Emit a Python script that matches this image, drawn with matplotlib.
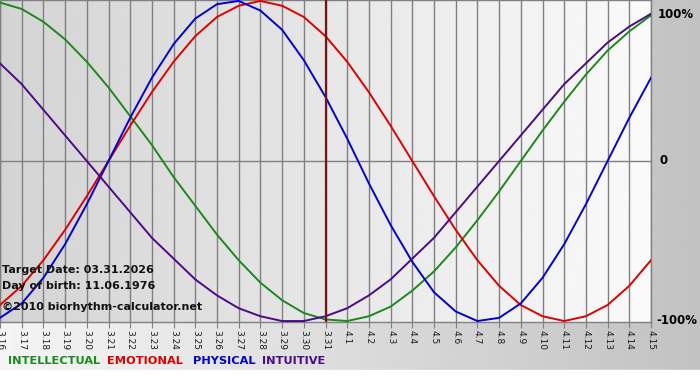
import numpy as np
import matplotlib
matplotlib.use('Agg')
import matplotlib.pyplot as plt

# dates shown on the x axis
dates = ['3.16', '3.17', '3.18', '3.19', '3.20', '3.21', '3.22', '3.23', '3.24', '3.25',
         '3.26', '3.27', '3.28', '3.29', '3.30', '3.31', '4.1', '4.2', '4.3', '4.4',
         '4.5', '4.6', '4.7', '4.8', '4.9', '4.10', '4.11', '4.12', '4.13', '4.14', '4.15']
target_idx = 15  # 3.31

# values (-1 .. 1)
intellectual = [0.99, 0.95, 0.87, 0.76, 0.62, 0.46, 0.28, 0.10, -0.10, -0.28,
                -0.46, -0.62, -0.76, -0.87, -0.95, -0.99, -1.00, -0.97, -0.91, -0.81,
                -0.69, -0.54, -0.37, -0.19, 0.00, 0.19, 0.37, 0.54, 0.69, 0.81, 0.91]
emotional = [-0.90, -0.78, -0.62, -0.43, -0.22, 0.00, 0.22, 0.43, 0.62, 0.78,
             0.90, 0.97, 1.00, 0.97, 0.90, 0.78, 0.62, 0.43, 0.22, 0.00,
             -0.22, -0.43, -0.62, -0.78, -0.90, -0.97, -1.00, -0.97, -0.90, -0.78, -0.62]
physical = [-0.98, -0.89, -0.73, -0.52, -0.27, 0.00, 0.27, 0.52, 0.73, 0.89,
            0.98, 1.00, 0.94, 0.82, 0.63, 0.40, 0.14, -0.14, -0.40, -0.63,
            -0.82, -0.94, -1.00, -0.98, -0.89, -0.73, -0.52, -0.27, 0.00, 0.27, 0.52]
intuitive = [0.61, 0.48, 0.32, 0.16, 0.00, -0.16, -0.32, -0.48, -0.61, -0.74,
             -0.84, -0.92, -0.97, -1.00, -1.00, -0.97, -0.92, -0.84, -0.74, -0.61,
             -0.48, -0.32, -0.16, 0.00, 0.16, 0.32, 0.48, 0.61, 0.74, 0.84, 0.92]

series = [('INTELLECTUAL', intellectual, '#1a8a1a'),
          ('EMOTIONAL', emotional, '#e00000'),
          ('PHYSICAL', physical, '#0000d8'),
          ('INTUITIVE', intuitive, '#4b0a8c')]

W, H = 700, 380
fig = plt.figure(figsize=(W / 100, H / 100), dpi=100)

# figure background: light on the left, grey on the right, white strip at the bottom
bg = fig.add_axes([0, 0, 1, 1])
bg.imshow(np.linspace(0.96, 0.76, 256).reshape(1, -1), cmap='gray', vmin=0, vmax=1,
          aspect='auto', extent=[0, 1, 0, 1])
bg.axhspan(0, 10 / H, color='white')
bg.set_xlim(0, 1)
bg.set_ylim(0, 1)
bg.axis('off')

x = np.arange(len(dates))
ax = fig.add_axes([0, 58 / H, 651 / W, 322 / H])
ax.imshow(np.linspace(0.83, 0.98, 256).reshape(1, -1), cmap='gray', vmin=0, vmax=1,
          aspect='auto', extent=[0, len(dates) - 1, -1.006, 1.006], zorder=0)
ax.set_xlim(0, len(dates) - 1)
ax.set_ylim(-1.006, 1.006)

for xi in x:
    ax.axvline(xi, color='#808080', lw=1, zorder=1)
ax.axhline(0, color='#808080', lw=1, zorder=1)

for name, vals, col in series:
    ax.plot(x, vals, color=col, lw=1.4, zorder=3, solid_joinstyle='round')

ax.axvline(target_idx, color='#7a1414', lw=1.6, zorder=4)

ax.set_xticks(x)
ax.set_xticklabels(dates, rotation=-90, fontsize=6.5, color='#1a1a1a')
ax.tick_params(axis='x', length=4, color='#808080', pad=2)
ax.set_yticks([])
for s in ax.spines.values():
    s.set_color('#808080')
    s.set_linewidth(1)

# y value labels at the right
fig.text(658 / W, 1 - 15 / H, '100%', fontsize=8.5, fontweight='bold', va='center')
fig.text(660 / W, 1 - 161 / H, '0', fontsize=8.5, fontweight='bold', va='center')
fig.text(656 / W, 1 - 321 / H, '-100%', fontsize=8.5, fontweight='bold', va='center')

# info text
info_kw = dict(fontsize=8, fontweight='bold', va='center', color='#111111')
fig.text(2 / W, 1 - 270 / H, 'Target Date: 03.31.2026', **info_kw)
fig.text(2 / W, 1 - 286 / H, 'Day of birth: 11.06.1976', **info_kw)
fig.text(2 / W, 1 - 307 / H, '\u00a92010 biorhythm-calculator.net', **info_kw)

# legend
legend_x = [8, 107, 193, 262]
for (name, vals, col), lx in zip(series, legend_x):
    fig.text(lx / W, 1 - 361 / H, name, fontsize=8.2, fontweight='bold', color=col, va='center')

fig.savefig('out.png', dpi=100)
